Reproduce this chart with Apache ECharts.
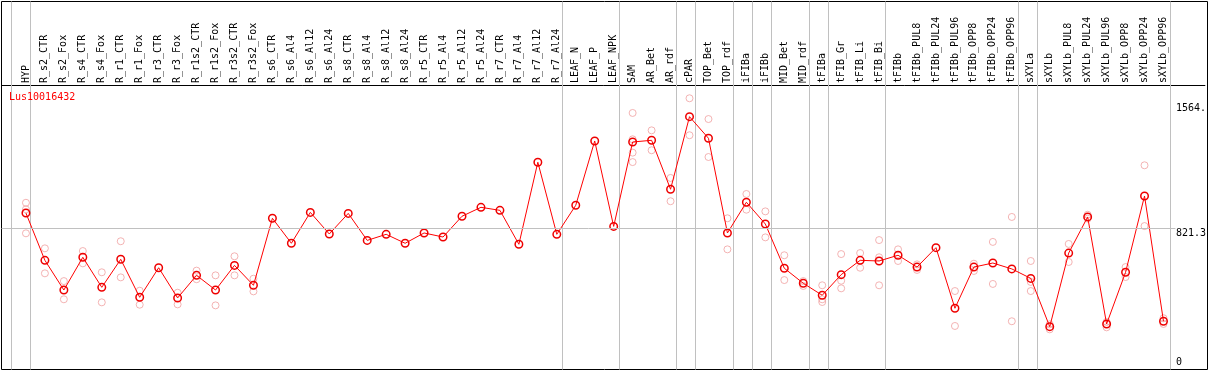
<!DOCTYPE html>
<html><head><meta charset="utf-8">
<script src="https://cdn.jsdelivr.net/npm/echarts@6/dist/echarts.min.js"></script>
<style>html,body{margin:0;padding:0;background:#fff}#c{width:1209px;height:370px}</style>
</head><body><div id="c"></div>
<script>
const geneId = 'Lus10016432';
const categories = ['HYP','R_s2_CTR','R_s2_Fox','R_s4_CTR','R_s4_Fox','R_r1_CTR','R_r1_Fox','R_r3_CTR','R_r3_Fox',
  'R_r1s2_CTR','R_r1s2_Fox','R_r3s2_CTR','R_r3s2_Fox','R_s6_CTR','R_s6_Al4','R_s6_Al12','R_s6_Al24',
  'R_s8_CTR','R_s8_Al4','R_s8_Al12','R_s8_Al24','R_r5_CTR','R_r5_Al4','R_r5_Al12','R_r5_Al24',
  'R_r7_CTR','R_r7_Al4','R_r7_Al12','R_r7_Al24','LEAF_N','LEAF_P','LEAF_NPK','SAM','AR_Bet','AR_rdf',
  'cPAR','TOP_Bet','TOP_rdf','iFIBa','iFIBb','MID_Bet','MID_rdf','tFIBa','tFIB_Gr','tFIB_Li','tFIB_Bi',
  'tFIBb','tFIBb_PUL8','tFIBb_PUL24','tFIBb_PUL96','tFIBb_OPP8','tFIBb_OPP24','tFIBb_OPP96',
  'sXYLa','sXYLb','sXYLb_PUL8','sXYLb_PUL24','sXYLb_PUL96','sXYLb_OPP8','sXYLb_OPP24','sXYLb_OPP96'];
const means = [912,632,456,650,472,638,413,588,409,543,456,602,484,881,733,916,788,910,750,786,733,
  794,770,893,946,928,727,1213,786,958,1339,833,1333,1343,1053,1483,1355,794,976,847,585,496,425,
  547,632,628,662,592,707,348,592,616,581,525,239,675,889,255,561,1013,271];
const replicates = [[973,934,792],[703,555],[509,401],[687,614],[561,383],[745,531],[452,369],[],
  [440,371],[571,520],[543,365],[656,543],[523,448],[],[],[],[],[],[],[],[],[],[],[],[],[],[],[],[],
  [],[],[],[1505,1349,1270,1214],[1402,1284],[1120,982],[1592,1373],[1469,1244],[881,697],[1025,932],
  [922,768],[662,515],[509,480],[484,401,385],[669,511,466],[675,588],[752,650,484],[697,628],[608,575],
  [],[450,243],[612,569],[741,492],[889,271],[628,504,450],[253,223],[729,622],[902,879],[267,235],
  [592,533],[1195,835],[289,255]];
// group separators are drawn after these category positions (0 = before the first category)
const groupEnds = [0,1,29,32,35,36,38,39,40,42,43,46,53,54,61];
const yTickValues = [0, 821.3, 1564];
const yTickLabels = ['0', '821.3', '1564.'];
const refValue = 821.3;

// category k (1-based position) sits at pixel X1 + STEP*(k-1)
const X1 = 26, STEP = 19;
const frameL = 1.5, frameR = 1207.5;
const xMin = 1 + (frameL - X1) / STEP, xMax = 1 + (frameR - X1) / STEP;
const font = 'DejaVu Sans Mono';

const meanData = means.map((v, i) => [i + 1, v]);
const repData = [];
replicates.forEach((arr, i) => arr.forEach(v => repData.push([i + 1, v])));
const sepData = groupEnds.map(k => [k + 4.5 / STEP, 0, 1]);
const yLabel = v => { const k = yTickValues.indexOf(v); return k >= 0 ? yTickLabels[k] : ''; };

const chart = echarts.init(document.getElementById('c'), null, { renderer: 'canvas' });
chart.setOption({
  animation: false,
  title: { text: geneId, left: 9, top: 92, padding: 0,
    textStyle: { color: '#ff0000', fontSize: 10, fontFamily: font, fontWeight: 'normal' } },
  grid: [
    { left: 1.5, right: 1.5, top: 103, bottom: 3 },
    { left: 1.5, right: 1.5, top: 1.5, bottom: 0.5, show: true, borderColor: '#000', borderWidth: 1, backgroundColor: 'transparent' }
  ],
  xAxis: [
    { type: 'value', gridIndex: 0, min: xMin, max: xMax, position: 'top', offset: 17.5,
      axisLine: { show: true, onZero: false, lineStyle: { color: '#000', width: 1 } },
      axisTick: { show: false }, splitLine: { show: false },
      axisLabel: { customValues: categories.map((_, i) => i + 1), formatter: v => categories[Math.round(v) - 1],
        rotate: -90, margin: 2.5, fontSize: 10, fontFamily: font, color: '#000' } },
    { type: 'value', gridIndex: 1, min: xMin, max: xMax, show: false, axisLine: { onZero: false } }
  ],
  yAxis: [
    { type: 'value', gridIndex: 0, min: yTickValues[0], max: yTickValues[2], position: 'right',
      axisLine: { show: false, onZero: false }, axisTick: { show: false }, splitLine: { show: false },
      axisLabel: { inside: true, customValues: yTickValues.slice(1), formatter: yLabel, align: 'left',
        verticalAlign: 'top', margin: 29, fontSize: 10, fontFamily: font, color: '#000' } },
    { type: 'value', gridIndex: 0, min: yTickValues[0], max: yTickValues[2], position: 'right',
      axisLine: { show: false, onZero: false }, axisTick: { show: false }, splitLine: { show: false },
      axisLabel: { inside: true, customValues: yTickValues.slice(0, 1), formatter: yLabel, align: 'left',
        verticalAlign: 'bottom', margin: 29, fontSize: 10, fontFamily: font, color: '#000' } },
    { type: 'value', gridIndex: 1, min: 0, max: 1, show: false, axisLine: { onZero: false } }
  ],
  series: [
    { type: 'custom', xAxisIndex: 1, yAxisIndex: 2, data: sepData, clip: false, silent: true, z: 1,
      encode: { x: 0, y: [1, 2] },
      renderItem: (params, api) => {
        const top = api.coord([api.value(0), api.value(2)]);
        const bot = api.coord([api.value(0), api.value(1)]);
        const x = Math.round(top[0] - 0.5) + 0.5;
        return { type: 'line', shape: { x1: x, y1: top[1], x2: x, y2: bot[1] },
          style: { stroke: '#c0c0c0', lineWidth: 1 } };
      } },
    { type: 'scatter', xAxisIndex: 0, yAxisIndex: 0, data: repData, clip: false, z: 2,
      symbol: 'circle', symbolSize: 7,
      itemStyle: { color: 'rgba(0,0,0,0)', borderColor: '#f0a0a0', borderWidth: 1 },
      markLine: { silent: true, symbol: ['none', 'none'], label: { show: false },
        lineStyle: { color: '#c0c0c0', type: 'solid', width: 1 },
        data: [[{ coord: [xMin, refValue] }, { coord: [1 + (1178 - X1) / STEP, refValue] }]] } },
    { type: 'line', xAxisIndex: 0, yAxisIndex: 0, data: meanData, clip: false, z: 3,
      symbol: 'circle', symbolSize: 7.5, showAllSymbol: true,
      lineStyle: { color: '#ff0000', width: 1 },
      itemStyle: { color: 'rgba(255,255,255,0)', borderColor: '#ee0000', borderWidth: 1.5 } }
  ]
});
</script></body></html>
